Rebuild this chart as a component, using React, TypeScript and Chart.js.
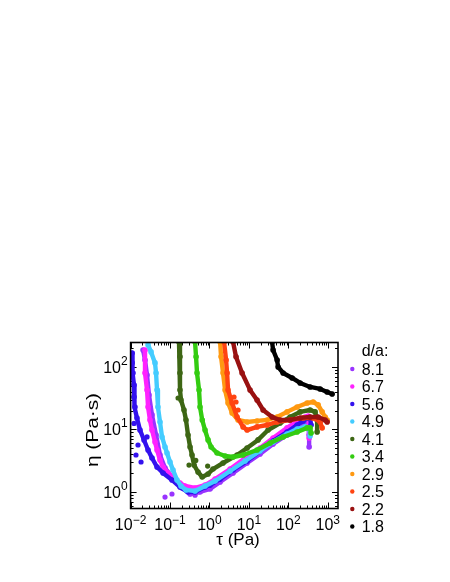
import React, { useEffect, useRef } from "react";
import { Chart, registerables } from "chart.js";

Chart.register(...registerables);

// ---- data: shear stress tau (Pa) and viscosity eta (Pa·s) per d/a ----
const tau81 = [0.0207, 0.0232, 0.0261, 0.0293, 0.0349, 0.0442, 0.0557, 0.0746, 0.119, 0.202, 0.322, 0.576, 1.035, 1.86, 3.97, 9.0, 19.2, 41.1, 93, 167, 267, 318, 337, 337];
const eta81 = [187, 129, 74.5, 35.6, 17.1, 8.17, 3.91, 2.42, 1.67, 1.16, 0.93, 1.0, 1.12, 1.45, 2.01, 2.91, 4.06, 5.86, 8.17, 10.6, 12.2, 13.2, 8.17, 5.25];

const tau67 = [0.0232, 0.0232, 0.0261, 0.0277, 0.031, 0.0349, 0.0416, 0.0468, 0.0557, 0.0664, 0.089, 0.119, 0.179, 0.24, 0.431, 0.773, 1.39, 3.34, 8.0, 19.2, 41.1, 93, 167, 267, 318, 337, 337];
const eta67 = [187, 80, 42.9, 22.9, 14.2, 9.8, 6.31, 4.7, 3.25, 2.51, 2.01, 1.74, 1.39, 1.25, 1.16, 1.29, 1.61, 2.33, 3.5, 5.06, 7.31, 10.6, 13.7, 15.8, 16.4, 11.8, 7.31];

const tau56 = [0.0109, 0.0109, 0.0115, 0.0122, 0.0122, 0.0129, 0.0145, 0.0173, 0.0219, 0.0277, 0.0349, 0.0468, 0.0664, 0.112, 0.179, 0.286, 0.431, 0.773, 1.035, 1.86, 3.97, 9.0, 19.2, 41.1, 93, 167, 238, 318, 357, 378];
const eta56 = [167, 116, 80, 51.5, 33, 22.9, 15.3, 9.8, 6.8, 4.7, 3.5, 2.51, 2.01, 1.56, 1.2, 1.0, 1.0, 1.2, 1.29, 1.61, 2.25, 3.13, 4.53, 6.55, 9.12, 11.8, 13.7, 15.3, 15.3, 11.8];

const tau49 = [0.0277, 0.033, 0.0416, 0.0442, 0.0468, 0.0494, 0.0557, 0.0627, 0.0746, 0.0839, 0.1, 0.119, 0.15, 0.19, 0.254, 0.431, 0.773, 1.39, 3.34, 8.0, 19.2, 41.1, 93, 167, 267, 337, 357];
const eta49 = [225, 174, 116, 80, 42.9, 22.9, 13.2, 7.59, 5.25, 4.21, 3.02, 2.25, 1.56, 1.25, 1.08, 1.04, 1.25, 1.5, 2.17, 3.13, 4.53, 6.31, 8.47, 10.2, 11.0, 10.6, 7.87];

const tau41 = [0.169, 0.179, 0.179, 0.179, 0.19, 0.226, 0.254, 0.286, 0.322, 0.361, 0.407, 0.513, 0.655, 0.922, 1.23, 2.21, 5.02, 9.0, 17.1, 30.7, 61.9, 111, 199, 357, 479, 538, 538];
const eta41 = [251, 145, 80, 42.9, 29.6, 20.5, 14.2, 8.17, 5.25, 3.91, 2.7, 2.09, 1.74, 1.94, 2.33, 2.91, 3.91, 5.06, 6.81, 9.8, 12.7, 15.8, 19.1, 20.5, 19.1, 14.2, 9.12];

const tau34 = [0.431, 0.457, 0.484, 0.544, 0.576, 0.655, 0.773, 0.922, 1.1, 1.56, 2.49, 3.97, 7.13, 16.1, 34.5, 73.8, 167, 300, 357, 378];
const eta34 = [251, 145, 80, 42.9, 22.9, 14.2, 9.8, 6.81, 5.25, 4.21, 3.77, 3.63, 3.91, 4.7, 6.08, 7.59, 9.12, 10.6, 10.6, 8.79];

const tau29 = [1.86, 1.97, 2.21, 2.49, 2.96, 3.75, 5.32, 9.0, 16.1, 29.0, 52.0, 93, 167, 300, 426, 570, 721, 859, 966];
const eta29 = [251, 145, 80, 42.9, 26.5, 18.4, 14.2, 13.2, 13.7, 14.2, 15.8, 19.1, 22.9, 26.5, 27.5, 24.7, 19.1, 15.8, 14.2];

const tau25 = [2.35, 2.64, 2.8, 2.96, 3.75, 5.02, 7.13, 9.0, 16.1, 29.0, 52.0, 111, 238, 426, 641, 721];
const eta25 = [251, 129, 80, 42.9, 26.5, 15.8, 11.0, 9.8, 11.0, 11.8, 13.2, 14.2, 15.3, 15.3, 13.2, 10.6];

const tau22 = [3.97, 4.72, 6.72, 10.7, 16.1, 22.9, 38.8, 61.9, 111, 199, 357, 570, 859, 966];
const eta22 = [251, 145, 80, 42.9, 29.6, 20.5, 15.8, 14.2, 14.2, 15.3, 15.8, 15.8, 14.2, 13.2];

const tau18 = [38.8, 41.1, 52.0, 55.1, 73.8, 125, 199, 357, 641, 966, 1294];
const eta18 = [251, 187, 129, 100, 80, 66.7, 55.5, 47.9, 44.5, 39.8, 37.0];

// scattered stray points (index = series index)
const strayTau81 = [0.0746, 0.112, 0.431];
const strayEta81 = [0.83, 0.93, 0.89];
const strayTau56 = [0.0137, 0.0154, 0.0184, 0.0261, 0.0122];
const strayEta56 = [3.91, 5.65, 3.02, 7.59, 12.5];
const strayTau41 = [0.16, 0.303, 0.45, 0.9];
const strayEta41 = [31.9, 2.7, 3.2, 2.6];
const strayTau25 = [4.72, 5.32, 4.2];
const strayEta25 = [27.5, 20.5, 33.0];

const seriesLabels = ["8.1", "6.7", "5.6", "4.9", "4.1", "3.4", "2.9", "2.5", "2.2", "1.8"];
const seriesColors = ["#9933ff", "#ff22ff", "#3311ee", "#44ccff", "#3d6614", "#33cc11", "#ff9911", "#ff4411", "#991111", "#000000"];
const seriesTau = [tau81, tau67, tau56, tau49, tau41, tau34, tau29, tau25, tau22, tau18];
const seriesEta = [eta81, eta67, eta56, eta49, eta41, eta34, eta29, eta25, eta22, eta18];
const strayIndex = [0, 2, 4, 7];
const strayTau = [strayTau81, strayTau56, strayTau41, strayTau25];
const strayEta = [strayEta81, strayEta56, strayEta41, strayEta25];

const xTickExponents = [-2, -1, 0, 1, 2, 3];
const yTickExponents = [0, 1, 2];
const xTitle = "τ (Pa)";
const yTitle = "η (Pa·s)";
const legendTitle = "d/a:";

const xMin = 0.01;
const xMax = 1820;
const yMin = 0.545;
const yMax = 246;

const FONT = '"Liberation Sans", Arial, Helvetica, sans-serif';

function expText(e: number): string {
  return e < 0 ? "\u2212" + Math.abs(e) : String(e);
}

const decorPlugin = {
  id: "decor",
  beforeDatasetsDraw(chart: any) {
    const { ctx, chartArea: a } = chart;
    const xs = chart.scales.x;
    const ys = chart.scales.y;
    ctx.save();
    ctx.strokeStyle = "#000";
    ctx.lineWidth = 1;
    ctx.beginPath();
    for (let e = -3; e <= 4; e++) {
      for (let m = 1; m <= 9; m++) {
        const v = m * Math.pow(10, e);
        const len = m === 1 ? 6 : 3;
        if (v >= xs.min * 0.9999 && v <= xs.max) {
          const p = Math.round(xs.getPixelForValue(v)) + 0.5;
          ctx.moveTo(p, a.bottom);
          ctx.lineTo(p, a.bottom - len);
          ctx.moveTo(p, a.top);
          ctx.lineTo(p, a.top + len);
        }
        if (v >= ys.min && v <= ys.max) {
          const p = Math.round(ys.getPixelForValue(v)) + 0.5;
          ctx.moveTo(a.left, p);
          ctx.lineTo(a.left + len, p);
          ctx.moveTo(a.right, p);
          ctx.lineTo(a.right - len, p);
        }
      }
    }
    ctx.stroke();
    ctx.restore();
  },
  afterDatasetsDraw(chart: any) {
    const { ctx, chartArea: a } = chart;
    const xs = chart.scales.x;
    const ys = chart.scales.y;
    ctx.save();
    ctx.strokeStyle = "#000";
    ctx.lineWidth = 1.6;
    ctx.strokeRect(a.left, a.top, a.right - a.left, a.bottom - a.top);

    ctx.fillStyle = "#000";
    ctx.textAlign = "left";
    ctx.textBaseline = "alphabetic";
    const baseFont = "16px " + FONT;
    const supFont = "12px " + FONT;

    xTickExponents.forEach((e) => {
      const px = xs.getPixelForValue(Math.pow(10, e));
      ctx.font = baseFont;
      const wb = ctx.measureText("10").width;
      ctx.font = supFont;
      const we = ctx.measureText(expText(e)).width;
      const x0 = px - (wb + we) / 2;
      ctx.font = baseFont;
      ctx.fillText("10", x0, a.bottom + 21.5);
      ctx.font = supFont;
      ctx.fillText(expText(e), x0 + wb, a.bottom + 15.5);
    });

    const rightEdge = a.left - 3;
    yTickExponents.forEach((e) => {
      const py = ys.getPixelForValue(Math.pow(10, e));
      ctx.font = baseFont;
      const wb = ctx.measureText("10").width;
      ctx.font = supFont;
      const we = ctx.measureText(expText(e)).width;
      ctx.font = baseFont;
      ctx.fillText("10", rightEdge - we - wb, py + 5.7);
      ctx.font = supFont;
      ctx.fillText(expText(e), rightEdge - we, py - 2);
    });

    ctx.font = "17px " + FONT;
    ctx.textAlign = "center";
    ctx.textBaseline = "middle";
    ctx.fillText(xTitle, 238, a.bottom + 32);

    ctx.save();
    ctx.translate(94, 430);
    ctx.rotate(-Math.PI / 2);
    ctx.scale(1.3, 1);
    ctx.font = "16px " + FONT;
    ctx.fillText(yTitle, 0, 0);
    ctx.restore();

    ctx.textAlign = "left";
    ctx.textBaseline = "alphabetic";
    ctx.font = "16px " + FONT;
    const lx = 361.7;
    ctx.fillText(legendTitle, lx, 350 + 5.7);
    chart.data.datasets
      .filter((ds: any) => !ds.stray)
      .forEach((ds: any, i: number) => {
        const cy = 369 + 17.5 * i;
        ctx.fillStyle = ds.borderColor;
        ctx.beginPath();
        ctx.arc(352.3, cy, 2.2, 0, Math.PI * 2);
        ctx.fill();
        ctx.fillStyle = "#000";
        ctx.fillText(ds.label, lx, cy + 5.7);
      });
    ctx.restore();
  },
};

export default function App() {
  const canvasRef = useRef<HTMLCanvasElement | null>(null);

  useEffect(() => {
    const canvas = canvasRef.current;
    if (!canvas) return;
    const n = seriesLabels.length;
    const main: any[] = seriesLabels.map((label, i) => ({
      label,
      data: seriesTau[i].map((t, k) => ({ x: t, y: seriesEta[i][k] })),
      showLine: true,
      borderColor: seriesColors[i],
      backgroundColor: seriesColors[i],
      borderWidth: 4.4,
      borderCapStyle: "round",
      borderJoinStyle: "round",
      pointRadius: 2.8,
      pointBorderWidth: 0,
      pointHoverRadius: 0,
      tension: 0,
      order: n - i,
    }));
    const strays: any[] = strayIndex.map((si, j) => ({
      label: seriesLabels[si],
      stray: true,
      data: strayTau[j].map((t, k) => ({ x: t, y: strayEta[j][k] })),
      showLine: false,
      borderColor: seriesColors[si],
      backgroundColor: seriesColors[si],
      pointRadius: 2.6,
      pointBorderWidth: 0,
      pointHoverRadius: 0,
      order: n - si,
    }));
    const chart = new Chart(canvas, {
      type: "scatter",
      data: { datasets: [...main, ...strays] },
      options: {
        responsive: false,
        animation: false,
        devicePixelRatio: 1,
        events: [],
        layout: { padding: { left: 130.6, right: 112, top: 342.5, bottom: 73.5 } },
        scales: {
          x: { type: "logarithmic", min: xMin, max: xMax, display: false },
          y: { type: "logarithmic", min: yMin, max: yMax, display: false },
        },
        plugins: {
          legend: { display: false },
          tooltip: { enabled: false },
          title: { display: false },
        },
      },
      plugins: [decorPlugin],
    });
    return () => chart.destroy();
  }, []);

  return (
    <div style={{ position: "absolute", left: 0, top: 0, width: 450, height: 582 }}>
      <canvas ref={canvasRef} width={450} height={582} style={{ display: "block", width: 450, height: 582 }} />
    </div>
  );
}
